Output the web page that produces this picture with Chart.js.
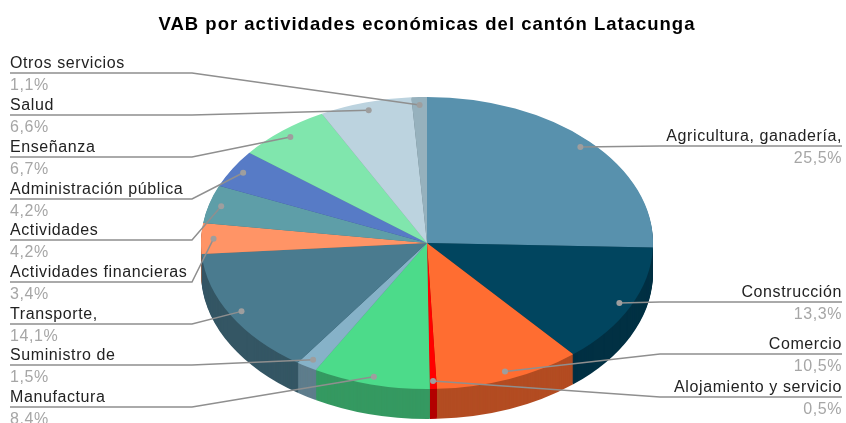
<!DOCTYPE html>
<html>
<head>
<meta charset="utf-8">
<script src="https://cdn.jsdelivr.net/npm/chart.js@4.4.1/dist/chart.umd.min.js"></script>
<style>
  html, body { margin: 0; background: #fff; }
  #wrap { width: 846px; height: 423px; }
</style>
</head>
<body>
<div id="wrap"><canvas id="vabChart"></canvas></div>
<script>
const titulo = 'VAB por actividades económicas del cantón Latacunga';
const categorias = [
  'Agricultura, ganadería,', 'Construcción', 'Comercio', 'Alojamiento y servicio',
  'Manufactura', 'Suministro de', 'Transporte,', 'Actividades financieras',
  'Actividades', 'Administración pública', 'Enseñanza', 'Salud', 'Otros servicios'
];
const valores = [25.5, 13.3, 10.5, 0.5, 8.4, 1.5, 14.1, 3.4, 4.2, 4.2, 6.7, 6.6, 1.1];
const colores = [
  '#5891ad', '#01455f', '#ff6d31', '#ff0000', '#4cdb8a', '#86b2c8', '#4a7b8f',
  '#ff9466', '#5e9ea8', '#577bc6', '#80e6ad', '#bcd3df', '#96b1bd'
];
// lado de la etiqueta y altura de su línea
const lado = ['d', 'd', 'd', 'd', 'i', 'i', 'i', 'i', 'i', 'i', 'i', 'i', 'i'];
const lineaY = [146, 302, 354, 397, 407, 365, 324, 282, 240, 199, 157, 115, 73];

// geometría de la elipse
const CX = 427, CY = 243, RX = 226, RY = 146, PROF = 30;
const FUENTE = "'Liberation Sans', Arial, sans-serif";

function oscurecer(hex, f) {
  const n = parseInt(hex.slice(1), 16);
  const r = Math.round(((n >> 16) & 255) * f);
  const g = Math.round(((n >> 8) & 255) * f);
  const b = Math.round((n & 255) * f);
  return `rgb(${r},${g},${b})`;
}
const colorLado = colores.map(c => oscurecer(c, 0.7));

function transformar(ctx, a0, dy) {
  ctx.translate(CX, CY + dy);
  ctx.scale(RX / a0.outerRadius, RY / a0.outerRadius);
  ctx.translate(-a0.x, -a0.y);
}

const pie3d = {
  id: 'pie3d',
  beforeDatasetsDraw(chart) {
    const ctx = chart.ctx;
    const arcs = chart.getDatasetMeta(0).data;
    const a0 = arcs[0];
    for (let d = PROF; d >= 1; d--) {
      ctx.save();
      transformar(ctx, a0, d);
      arcs.forEach((arc, i) => {
        ctx.beginPath();
        ctx.moveTo(arc.x, arc.y);
        ctx.arc(arc.x, arc.y, arc.outerRadius, arc.startAngle, arc.endAngle);
        ctx.closePath();
        ctx.fillStyle = colorLado[i];
        ctx.fill();
      });
      ctx.restore();
    }
    ctx.save();
    transformar(ctx, a0, 0);
  },
  afterDatasetsDraw(chart) {
    chart.ctx.restore();
  },
  afterDraw(chart) {
    const ctx = chart.ctx;
    const arcs = chart.getDatasetMeta(0).data;
    const a0 = arcs[0];
    const sx = RX / a0.outerRadius, sy = RY / a0.outerRadius;
    ctx.save();

    // título
    ctx.font = 'bold 18.5px ' + FUENTE;
    ctx.letterSpacing = '1px';
    ctx.textAlign = 'center';
    ctx.fillStyle = '#000000';
    ctx.fillText(titulo, CX, 30);

    ctx.font = '16px ' + FUENTE;
    ctx.letterSpacing = '0.6px';
    arcs.forEach((arc, i) => {
      const m = (arc.startAngle + arc.endAngle) / 2;
      const px = CX + Math.cos(m) * arc.outerRadius * 0.945 * sx;
      const py = CY + Math.sin(m) * arc.outerRadius * 0.945 * sy;
      const uy = lineaY[i];
      ctx.strokeStyle = '#8f8f8f';
      ctx.lineWidth = 1.5;
      ctx.beginPath();
      if (lado[i] === 'd') {
        ctx.moveTo(842, uy);
        ctx.lineTo(Math.max(660, px), uy);
      } else {
        ctx.moveTo(10, uy);
        ctx.lineTo(192, uy);
      }
      ctx.lineTo(px, py);
      ctx.stroke();
      ctx.fillStyle = '#9e9e9e';
      ctx.beginPath();
      ctx.arc(px, py, 3, 0, Math.PI * 2);
      ctx.fill();

      ctx.textAlign = lado[i] === 'd' ? 'right' : 'left';
      const tx = lado[i] === 'd' ? 842 : 10;
      ctx.fillStyle = '#222222';
      ctx.fillText(categorias[i], tx, uy - 5);
      ctx.fillStyle = '#a6a6a6';
      ctx.fillText(valores[i].toFixed(1).replace('.', ',') + '%', tx, uy + 17);
    });
    ctx.restore();
  }
};

new Chart(document.getElementById('vabChart'), {
  type: 'pie',
  data: {
    labels: categorias,
    datasets: [{
      data: valores,
      backgroundColor: colores,
      borderWidth: 0,
      clip: false
    }]
  },
  options: {
    responsive: true,
    maintainAspectRatio: false,
    animation: false,
    events: [],
    layout: { padding: { top: 60, bottom: 30 } },
    plugins: {
      legend: { display: false },
      tooltip: { enabled: false },
      title: { display: false }
    }
  },
  plugins: [pie3d]
});
</script>
</body>
</html>
